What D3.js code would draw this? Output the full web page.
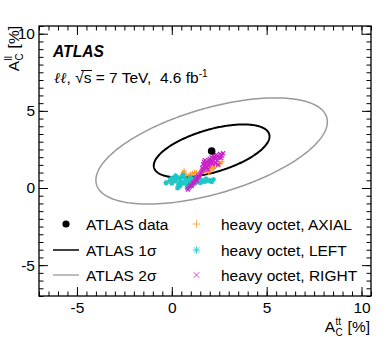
<!DOCTYPE html>
<html><head><meta charset="utf-8">
<script src="https://cdn.jsdelivr.net/npm/d3@7"></script>
<style>
body{margin:0;background:#fff;}
text{font-family:"Liberation Sans",Arial,Helvetica,sans-serif;fill:#000;white-space:pre;}
</style></head><body>
<svg id="c" width="390" height="337"></svg>
<script>
// ---------- data ----------
const xMajorTicks = [-5, 0, 5, 10];
const yMajorTicks = [-5, 0, 5, 10];
const xDomain = [-7, 10.5];
const yDomain = [-7, 10.5];
const atlasData = [2.1, 2.4];            // [A_C^tt, A_C^ll] in %
const sigmaTT = 3.05, sigmaLL = 1.72, rho = 0.55;
const contourLevels = [1, 2];
const legendLabels = ["ATLAS data", "ATLAS 1σ", "ATLAS 2σ",
  "heavy octet, AXIAL", "heavy octet, LEFT", "heavy octet, RIGHT"];

const axialPts = [[-0.3,0.3],[-0.15,0.4],[0.0,0.45],[0.1,0.4],[0.2,0.55],[0.35,0.6],[0.5,0.75],[0.6,1.0],[0.65,1.1],[0.75,0.85],[0.9,0.8],[1.0,0.9],[1.1,0.95],[1.2,1.0],[1.3,1.0],[1.45,0.95],[1.55,1.05],[1.7,1.1],[1.8,1.05],[1.9,1.2],[2.0,1.3],[2.05,1.15],[2.15,1.4],[2.25,1.35],[2.35,1.55],[2.45,1.5],[2.55,1.6],[2.65,1.7],[2.2,1.25],[1.95,1.0]];
const leftPts = [[-0.3,0.35],[-0.1,0.5],[0.0,0.3],[0.1,0.6],[0.2,0.45],[0.3,0.7],[0.35,0.25],[0.4,0.55],[0.5,0.4],[0.55,0.75],[0.6,0.3],[0.7,0.6],[0.75,0.45],[0.8,0.2],[0.9,0.55],[0.95,0.35],[1.0,0.7],[1.1,0.45],[1.15,0.25],[1.2,0.6],[1.3,0.4],[1.4,0.55],[1.5,0.35],[1.6,0.5],[1.7,0.4],[1.8,0.6],[1.9,0.45],[2.0,0.5],[2.1,0.4],[2.2,0.55],[0.3,0.0],[0.35,0.05],[0.8,0.0],[0.85,0.08],[0.0,0.65],[0.2,0.8],[0.6,0.85],[1.3,0.7],[0.45,0.15],[1.0,0.15]];
const rightPts = [[0.85,-0.1],[0.9,0.0],[0.95,0.1],[1.0,0.2],[1.05,0.15],[1.1,0.3],[1.15,0.4],[1.2,0.35],[1.25,0.5],[1.3,0.6],[1.3,0.45],[1.35,0.7],[1.4,0.8],[1.45,0.75],[1.5,0.9],[1.55,1.0],[1.6,1.1],[1.6,1.3],[1.65,1.2],[1.7,1.4],[1.75,1.5],[1.8,1.3],[1.8,1.6],[1.85,1.7],[1.9,1.5],[1.95,1.8],[2.0,1.6],[2.0,1.9],[2.1,1.7],[2.1,2.0],[2.2,1.8],[2.2,2.1],[2.3,1.9],[2.35,2.15],[2.4,1.8],[2.5,2.0],[2.55,2.2],[2.65,2.1],[2.7,2.25],[1.7,1.7],[1.9,1.2],[2.3,1.6],[2.45,1.5],[1.75,1.8],[1.95,1.45],[2.05,1.75],[2.15,1.55],[2.25,2.0],[1.85,1.35],[2.4,2.05],[2.6,1.95],[1.65,1.55]];

// ---------- layout ----------
const L = 39, R = 371, T = 26, B = 296;
const FS = 15.5;
const svg = d3.select("#c");
const x = d3.scaleLinear().domain(xDomain).range([L, R]);
const y = d3.scaleLinear().domain(yDomain).range([B, T]);

const colAxial = "#ff9a2e", colLeft = "#1cc6c6", colRight = "#c81ec8";

// ---------- axes ----------
const minor = d3.range(-7, 10.51, 0.5);
function ax(gen, tr, vals, size, labels) {
  const g = svg.append("g").attr("transform", tr)
    .call(gen.tickValues(vals).tickSizeInner(size).tickSizeOuter(0).tickPadding(6)
      .tickFormat(labels ? (d => String(d)) : ""));
  g.select(".domain").remove();
  g.selectAll("line").attr("stroke", "#000").attr("stroke-width", 1);
  g.selectAll("text").style("font-size", FS + "px").style("font-family", '"Liberation Sans",Arial,sans-serif');
  return g;
}
ax(d3.axisBottom(x), `translate(0,${B})`, minor, -4.5, false);
ax(d3.axisBottom(x), `translate(0,${B})`, xMajorTicks, -9, true);
ax(d3.axisTop(x), `translate(0,${T})`, minor, -4.5, false);
ax(d3.axisTop(x), `translate(0,${T})`, xMajorTicks, -9, false);
ax(d3.axisLeft(y), `translate(${L},0)`, minor, -4.5, false);
const ly = ax(d3.axisLeft(y), `translate(${L},0)`, yMajorTicks, -9, true);
ly.selectAll("text").attr("x", -4);
ax(d3.axisRight(y), `translate(${R},0)`, minor, -4.5, false);
ax(d3.axisRight(y), `translate(${R},0)`, yMajorTicks, -9, false);

svg.append("rect").attr("x", L).attr("y", T).attr("width", R - L).attr("height", B - T)
  .attr("fill", "none").attr("stroke", "#000").attr("stroke-width", 1.3);

// ---------- contours ----------
const tt = d3.range(0, 2 * Math.PI, 0.02);
const line = d3.line().x(d => x(d[0])).y(d => y(d[1])).curve(d3.curveLinearClosed);
contourLevels.forEach(k => {
  const pts = tt.map(t => [atlasData[0] + k * sigmaTT * Math.cos(t),
    atlasData[1] + k * sigmaLL * (rho * Math.cos(t) + Math.sqrt(1 - rho * rho) * Math.sin(t))]);
  svg.append("path").attr("d", line(pts)).attr("fill", "none")
    .attr("stroke", k === 1 ? "#000" : "#999").attr("stroke-width", k === 1 ? 2 : 1.5);
});

// ---------- markers ----------
function markerPath(type, s) {
  const h = s / 2, d = h * 0.75;
  if (type === "plus") return `M${-h},0H${h}M0,${-h}V${h}`;
  if (type === "cross") return `M${-d},${-d}L${d},${d}M${-d},${d}L${d},${-d}`;
  return `M${-h},0H${h}M0,${-h}V${h}M${-d},${-d}L${d},${d}M${-d},${d}L${d},${-d}`;
}
function scatter(pts, type, col, s) {
  svg.append("g").selectAll("path").data(pts).join("path")
    .attr("transform", d => `translate(${x(d[0])},${y(d[1])})`)
    .attr("d", markerPath(type, s)).attr("stroke", col).attr("stroke-width", 1.2).attr("fill", "none");
}
scatter(axialPts, "plus", colAxial, 5);
scatter(leftPts, "star", colLeft, 5);
scatter(rightPts, "cross", colRight, 5.5);

svg.append("circle").attr("cx", x(atlasData[0])).attr("cy", y(atlasData[1])).attr("r", 3.8).attr("fill", "#000");

// ---------- legend ----------
const lg = svg.append("g");
const rows = [224, 250, 275];
lg.append("circle").attr("cx", 66).attr("cy", rows[0]).attr("r", 3.6).attr("fill", "#000");
lg.append("line").attr("x1", 53).attr("x2", 79).attr("y1", rows[1]).attr("y2", rows[1]).attr("stroke", "#000").attr("stroke-width", 1.5);
lg.append("line").attr("x1", 53).attr("x2", 79).attr("y1", rows[2]).attr("y2", rows[2]).attr("stroke", "#999").attr("stroke-width", 1.3);
[["plus", colAxial], ["star", colLeft], ["cross", colRight]].forEach((m, i) => {
  lg.append("path").attr("transform", `translate(196.5,${rows[i]})`).attr("d", markerPath(m[0], 7.5))
    .attr("stroke", m[1]).attr("stroke-width", 1).attr("fill", "none").attr("opacity", 0.8);
});
legendLabels.forEach((t, i) => {
  lg.append("text").attr("x", i < 3 ? 86 : 221).attr("y", rows[i % 3] + 5.6)
    .style("font-size", FS + "px").text(t);
});

// ---------- labels ----------
svg.append("text").attr("x", 53).attr("y", 57).style("font-size", "15.6px")
  .style("font-weight", "bold").style("font-style", "italic").text("ATLAS");

const info = svg.append("text").attr("x", 54).attr("y", 83).style("font-size", FS + "px");
info.append("tspan").style("font-style", "italic").style("font-family", '"DejaVu Serif",serif').style("font-size", "15px").text("ℓℓ");
info.append("tspan").text(", ");
info.append("tspan").text("√");
info.append("tspan").text("s");
info.append("tspan").text(" = 7 TeV,  4.6 fb");
info.append("tspan").attr("dy", -6).style("font-size", "10px").text("-1");
// overline over s
{
  const n = info.node();
  const s0 = n.getStartPositionOfChar(4), e0 = n.getEndPositionOfChar(5);
  svg.append("line").attr("x1", s0.x + 6).attr("x2", e0.x + 0.5).attr("y1", 83 - 12.5).attr("y2", 83 - 12.5)
    .attr("stroke", "#000").attr("stroke-width", 1);
}

// axis titles with sub/superscripts
function titled(g, xr, yb, sup) {
  const t = g.append("g");
  const a = t.append("text").attr("y", yb).style("font-size", FS + "px").text("A");
  const wA = a.node().getComputedTextLength();
  const sb = t.append("text").attr("x", wA + 0.5).attr("y", yb + 3.5).style("font-size", "10px").text("C");
  const sp = t.append("text").attr("x", wA + 0.5).attr("y", yb - 7.5).style("font-size", "10px").text(sup);
  const w2 = Math.max(sb.node().getComputedTextLength(), sp.node().getComputedTextLength());
  const rest = t.append("text").attr("x", wA + w2 + 1).attr("y", yb).style("font-size", FS + "px").text("\u00a0[%]");
  const total = wA + w2 + 1 + rest.node().getComputedTextLength();
  t.attr("transform", `translate(${xr - total},0)`);
  return t;
}
titled(svg, 370, 332, "tt");
const yg = svg.append("g").attr("transform", "translate(19,0) rotate(-90)");
titled(yg, -26, 0, "ll");
</script></body></html>
